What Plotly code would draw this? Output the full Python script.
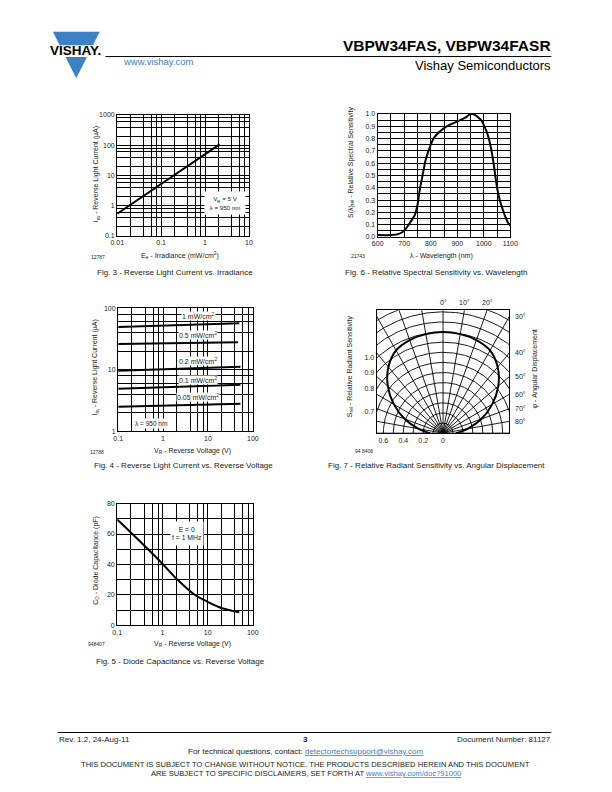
import numpy as np
import plotly.graph_objects as go

W, H = 612, 792
FONT = "Liberation Sans, Arial, Helvetica, sans-serif"
BLUE = "#3d80c6"

# ---------------- data ----------------
# Fig. 3 - reverse light current vs irradiance
irr_E = [0.01, 0.1, 1, 2.15]
irr_I = [0.54, 5.2, 50, 107]

# Fig. 6 - relative spectral sensitivity vs wavelength
wl_nm = [600, 650, 680, 700, 720, 740, 750, 760, 770, 780, 790, 800, 810, 830, 860,
         900, 930, 950, 960, 975, 990, 1000, 1010, 1020, 1030, 1040, 1050, 1060,
         1075, 1090, 1100]
wl_S = [0.015, 0.015, 0.025, 0.05, 0.11, 0.18, 0.26, 0.4, 0.51, 0.62, 0.69, 0.75, 0.8,
        0.85, 0.9, 0.94, 0.97, 1.0, 1.0, 0.98, 0.95, 0.91, 0.86, 0.79, 0.69, 0.55,
        0.4, 0.3, 0.2, 0.12, 0.09]

# Fig. 4 - reverse light current vs reverse voltage
vr_1 = [0.1, 1, 10, 50]
ira_1 = [49.5, 52, 55, 57]
vr_05 = [0.1, 1, 10, 47]
ira_05 = [26.3, 26.9, 27.6, 28]
vr_02 = [0.1, 1, 10, 53]
ira_02 = [9.6, 10.1, 10.7, 11.2]
vr_01 = [0.1, 1, 10, 53]
ira_01 = [4.9, 5.15, 5.45, 5.7]
vr_005 = [0.1, 1, 10, 53]
ira_005 = [2.5, 2.6, 2.7, 2.8]
irr_labels = ["1 mW/cm<sup>2</sup>", "0.5 mW/cm<sup>2</sup>", "0.2 mW/cm<sup>2</sup>",
              "0.1 mW/cm<sup>2</sup>", "0.05 mW/cm<sup>2</sup>"]

# Fig. 5 - diode capacitance vs reverse voltage
cap_V = [0.1, 0.2, 0.5, 1, 2, 5, 10, 20, 50]
cap_C = [69.5, 61, 49.5, 40.5, 31, 20.5, 15.5, 11.5, 8.7]

# Fig. 7 - relative radiant sensitivity vs angular displacement
ang_deg = [0, 10, 20, 30, 40, 50, 60, 70, 80, 90]
ang_S = [1.0, 0.995, 0.98, 0.945, 0.855, 0.725, 0.57, 0.41, 0.25, 0.13]
polar_rlabels = [1.0, 0.9, 0.8, 0.7]
polar_top_deg = [0, 10, 20]
polar_right_deg = [30, 40, 50, 60, 70, 80]
polar_bottom = [0.6, 0.4, 0.2, 0]


# ---------------- helpers ----------------
def px(x):
    return x / W


def py(y):
    return 1 - y / H


def dom_x(a, b):
    return [a / W, b / W]


def dom_y(top, bottom):
    return [1 - bottom / H, 1 - top / H]


def log_grid(lo, hi):
    vals, txt = [], []
    for d in range(lo, hi):
        for m in [1, 2, 4, 6, 8]:
            v = m * 10.0 ** d
            vals.append(v)
            txt.append(f"{v:g}" if m == 1 else "")
    vals.append(10.0 ** hi)
    txt.append(f"{10.0 ** hi:g}")
    return vals, txt


TICKFONT = dict(size=7, family=FONT, color="#222")
BASE = dict(showline=True, mirror=True, linecolor="black", linewidth=1.3,
            showgrid=True, gridcolor="black", gridwidth=0.8, zeroline=False,
            ticks="", tickfont=TICKFONT, fixedrange=True)

fig = go.Figure()
LINE = dict(color="black", width=2)

fig.add_trace(go.Scatter(x=irr_E, y=irr_I, mode="lines", line=LINE, xaxis="x", yaxis="y"))
fig.add_trace(go.Scatter(x=wl_nm, y=wl_S, mode="lines",
                         line=dict(color="black", width=2, shape="spline", smoothing=0.7),
                         xaxis="x2", yaxis="y2"))
for vv, ii in [(vr_1, ira_1), (vr_05, ira_05), (vr_02, ira_02), (vr_01, ira_01), (vr_005, ira_005)]:
    fig.add_trace(go.Scatter(x=vv, y=ii, mode="lines", line=LINE, xaxis="x3", yaxis="y3"))
fig.add_trace(go.Scatter(x=cap_V, y=cap_C, mode="lines",
                         line=dict(color="black", width=2, shape="spline", smoothing=0.8),
                         xaxis="x6", yaxis="y6"))

# Fig 7: polar pattern drawn in a square frame (origin at bottom centre)
XR = 0.667
YR = 1.216
gx, gy = [], []
t = np.linspace(0, np.pi, 241)
for r in np.arange(0.1, 1.45, 0.1):
    gx += list(r * np.cos(t)) + [None]
    gy += list(r * np.sin(t)) + [None]
for a in range(-90, 91, 10):
    th = np.radians(a)
    gx += [0, 2 * np.sin(th), None]
    gy += [0, 2 * np.cos(th), None]
fig.add_trace(go.Scatter(x=gx, y=gy, mode="lines", line=dict(color="black", width=0.9),
                         xaxis="x4", yaxis="y4", hoverinfo="skip"))
full_ang = [-a for a in ang_deg[::-1]] + ang_deg[1:]
full_S = ang_S[::-1] + ang_S[1:]
th = np.radians(full_ang)
fig.add_trace(go.Scatter(x=np.array(full_S) * np.sin(th), y=np.array(full_S) * np.cos(th),
                         mode="lines", line=dict(color="black", width=2, shape="spline", smoothing=1.0),
                         xaxis="x4", yaxis="y4"))

# ---------------- axes ----------------
g3x, t3x = log_grid(-2, 1)
g3y, t3y = log_grid(-1, 3)
g4x, t4x = log_grid(-1, 2)
g4y, t4y = log_grid(0, 2)

wl_ticks = list(range(600, 1101, 50))
wl_text = [str(v) if v % 100 == 0 else "" for v in wl_ticks]
s_ticks = [round(0.05 * i, 2) for i in range(21)]
s_text = [f"{v:.1f}" if i % 2 == 0 else "" for i, v in enumerate(s_ticks)]
c_ticks = list(range(0, 81, 10))
c_text = [str(v) if v % 20 == 0 else "" for v in c_ticks]

layout_axes = dict(
    xaxis=dict(BASE, domain=dom_x(113, 248), type="log", range=[-2, 1], tickvals=g3x, ticktext=t3x, anchor="y"),
    yaxis=dict(BASE, domain=dom_y(112, 234), type="log", range=[-1, 3], tickvals=g3y, ticktext=t3y, anchor="x"),
    xaxis2=dict(BASE, domain=dom_x(380, 516), range=[600, 1100], tickvals=wl_ticks, ticktext=wl_text, anchor="y2"),
    yaxis2=dict(BASE, domain=dom_y(111, 235), range=[0, 1], tickvals=s_ticks, ticktext=s_text, anchor="x2"),
    xaxis3=dict(BASE, domain=dom_x(114, 252), type="log", range=[-1, 2], tickvals=g4x, ticktext=t4x, anchor="y3"),
    yaxis3=dict(BASE, domain=dom_y(307, 431), type="log", range=[0, 2], tickvals=g4y, ticktext=t4y, anchor="x3"),
    xaxis6=dict(BASE, domain=dom_x(113, 252), type="log", range=[-1, 2], tickvals=g4x, ticktext=t4x, anchor="y6"),
    yaxis6=dict(BASE, domain=dom_y(504, 627), range=[0, 80], tickvals=c_ticks, ticktext=c_text, anchor="x6"),
    xaxis4=dict(BASE, domain=dom_x(379, 515), range=[-XR, XR], showgrid=False,
                tickvals=[-v for v in polar_bottom], ticktext=[f"{v:g}" for v in polar_bottom], anchor="y4"),
    yaxis4=dict(BASE, domain=dom_y(309, 433), range=[0, YR], showgrid=False,
                tickvals=[float(np.sqrt(r * r - XR * XR)) for r in polar_rlabels],
                ticktext=[f"{r:.1f}" for r in polar_rlabels], anchor="x4"),
)

ann = []


def T(x, y, text, size=7, angle=0, xanchor="center", color="#222", bold=False, **kw):
    if bold:
        text = f"<b>{text}</b>"
    d = dict(x=px(x), y=py(y), xref="paper", yref="paper", text=text, showarrow=False,
             font=dict(size=size, family=FONT, color=color), textangle=angle,
             xanchor=xanchor, yanchor="middle")
    d.update(kw)
    ann.append(d)


# Fig 3 texts
T(92, 172, "I<sub>ra</sub> - Reverse Light Current (µA)", 7, -90)
T(177, 254, "E<sub>e</sub> - Irradiance (mW/cm<sup>2</sup>)", 7)
T(93, 255, "12787", 5)
T(172, 271, "Fig. 3 - Reverse Light Current vs. Irradiance", 8)
T(223, 201, "V<sub>R</sub> = 5 V<br>λ = 950 nm", 6.2, bgcolor="white", width=40, height=22, borderpad=0)

# Fig 6 texts
T(352, 160, "S(λ)<sub>rel</sub> - Relative Spectral Sensitivity", 7, -90)
T(445, 254, "λ - Wavelength (nm)", 7)
T(360, 254, "21743", 5)
T(440, 271, "Fig. 6 - Relative Spectral Sensitivity vs. Wavelength", 8)

# Fig 4 texts
T(90, 367, "I<sub>ra</sub> - Reverse Light Current (µA)", 7, -90)
T(190, 451, "V<sub>R</sub> - Reverse Voltage (V)", 7)
T(92, 452, "12788", 5)
T(181, 466, "Fig. 4 - Reverse Light Current vs. Reverse Voltage", 8)
for lab, yy in zip(irr_labels, [315, 334, 360, 379, 397]):
    T(196, yy, lab, 7, bgcolor="white", borderpad=0)
T(148, 423, "λ = 950 nm", 6.5, bgcolor="white", borderpad=1)

# Fig 5 texts
T(91, 561, "C<sub>D</sub> - Diode Capacitance (pF)", 7, -90)
T(190, 646, "V<sub>R</sub> - Reverse Voltage (V)", 7)
T(92, 646, "948407", 5)
T(178, 663, "Fig. 5 - Diode Capacitance vs. Reverse Voltage", 8)
T(185, 534, "E = 0<br>f = 1 MHz", 6.8, bgcolor="white", width=32, height=23, borderpad=0)

# Fig 7 texts
T(351, 365, "S<sub>rel</sub> - Relative Radiant Sensitivity", 7, -90)
T(541, 368, "φ - Angular Displacement", 7, -90)
T(366, 451, "94 8406", 5)
T(440, 466, "Fig. 7 - Relative Radiant Sensitivity vs. Angular Displacement", 8)
for a in polar_top_deg:
    ann.append(dict(x=YR * np.tan(np.radians(a)), y=py(301), xref="x4", yref="paper",
                    text=f"{a}°", showarrow=False, font=dict(size=7, family=FONT, color="#222"),
                    xanchor="center", yanchor="middle"))
for a in polar_right_deg:
    ann.append(dict(x=px(519), y=XR / np.tan(np.radians(a)), xref="paper", yref="y4",
                    text=f"{a}°", showarrow=False, font=dict(size=7, family=FONT, color="#222"),
                    xanchor="left", yanchor="middle"))

# Header
T(560, 42, "VBPW34FAS, VBPW34FASR", 15.5, xanchor="right", color="black", bold=True)
T(560, 62, "Vishay Semiconductors", 13, xanchor="right", color="black")
T(117, 58, "www.vishay.com", 9.5, xanchor="left", color=BLUE)
T(70, 47, "VISHAY.", 13.5, color="black", bold=True)

# Footer
T(51, 742, "Rev. 1.2, 24-Aug-11", 8, xanchor="left")
T(306, 742, "3", 8, bold=True)
T(560, 742, "Document Number: 81127", 8, xanchor="right")
T(306, 754, f"For technical questions, contact: <span style='color:{BLUE}'><u>detectortechsupport@vishay.com</u></span>", 8)
T(306, 767, "THIS DOCUMENT IS SUBJECT TO CHANGE WITHOUT NOTICE. THE PRODUCTS DESCRIBED HEREIN AND THIS DOCUMENT", 7.6)
T(306, 776, f"ARE SUBJECT TO SPECIFIC DISCLAIMERS, SET FORTH AT <span style='color:{BLUE}'><u>www.vishay.com/doc?91000</u></span>", 7.6)


def path(pts):
    return "M " + " L ".join(f"{px(x):.5f},{py(y):.5f}" for x, y in pts) + " Z"


shapes = [
    dict(type="path", xref="paper", yref="paper", path=path([(47, 28), (95, 28), (71, 75)]),
         fillcolor=BLUE, line=dict(width=0), layer="below"),
    dict(type="rect", xref="paper", yref="paper", x0=px(40), x1=px(100), y0=py(41.5), y1=py(53.5),
         fillcolor="white", line=dict(width=0), layer="below"),
    dict(type="line", xref="paper", yref="paper", x0=px(101), x1=px(558), y0=py(53), y1=py(53),
         line=dict(color="black", width=1)),
    dict(type="line", xref="paper", yref="paper", x0=px(52), x1=px(558), y0=py(735), y1=py(735),
         line=dict(color="black", width=1)),
]

fig.update_layout(
    width=W, height=H, margin=dict(l=0, r=0, t=0, b=0, pad=0),
    paper_bgcolor="white", plot_bgcolor="white", showlegend=False,
    font=dict(family=FONT, color="#222"),
    annotations=ann, shapes=shapes, **layout_axes,
)

fig.write_html("out.html")
